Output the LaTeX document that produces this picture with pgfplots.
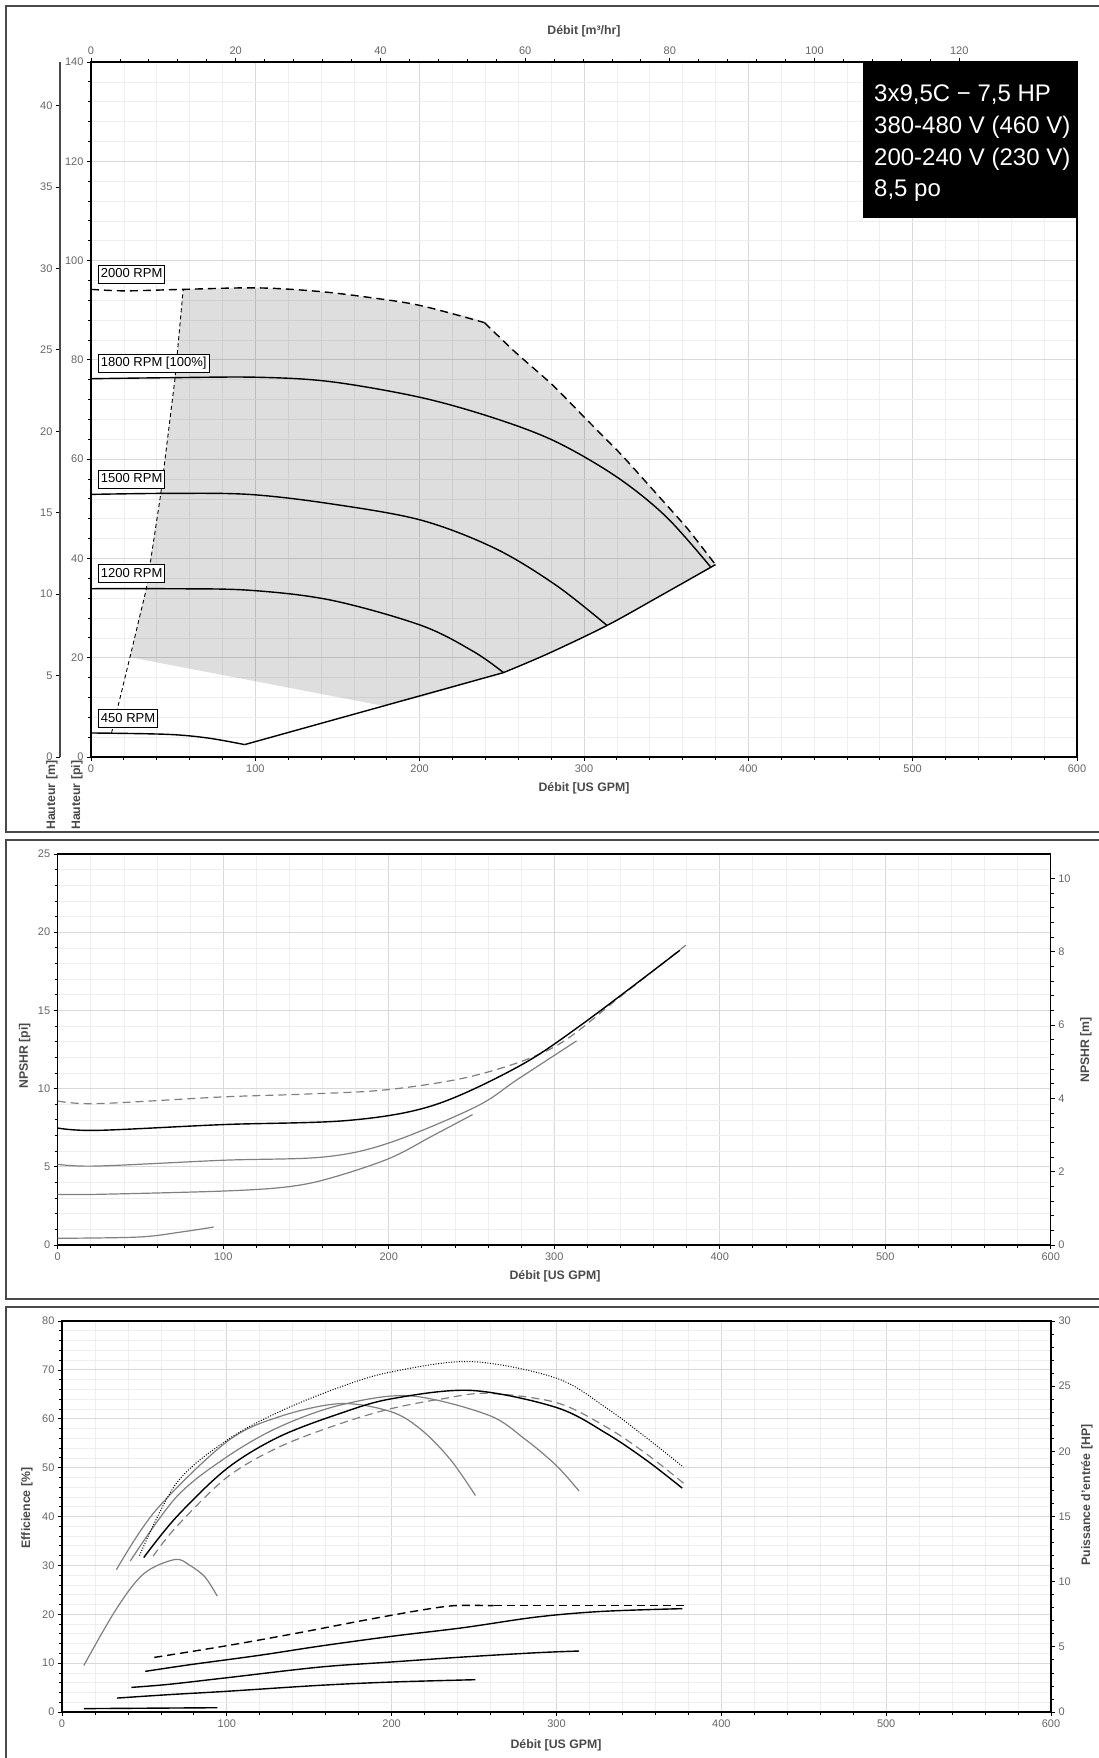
\documentclass[border=0pt]{standalone}
\usepackage{fontspec}
\setmainfont{Liberation Sans}
\usepackage{pgfplots}
\pgfplotsset{compat=1.18}
\definecolor{tickgray}{HTML}{666666}
\definecolor{labgray}{HTML}{4A4A4A}
\definecolor{curvegray}{HTML}{808080}
\definecolor{gmaj}{HTML}{D9D9D9}
\definecolor{gmin}{HTML}{EEEEEE}
\definecolor{framegray}{HTML}{4A4A4A}
\pgfplotsset{
  base/.style={
    scale only axis,
    axis line style={black, line width=1.2pt},
    tick style={black, line width=0.8pt},
    major tick length=4pt, minor tick length=3pt,
    tick align=outside,
    tick label style={font=\fontsize{11}{13}\selectfont, text=tickgray},
    /pgf/number format/assume math mode=true,
    /pgf/number format/1000 sep={},
  },
  gridded/.style={grid=both, major grid style={gmaj, line width=0.9pt}, minor grid style={gmin, line width=0.7pt}},
}
\tikzset{
  blk/.style={black, line width=1.4pt, smooth, tension=0.55},
  gry/.style={curvegray, line width=1.2pt, smooth, tension=0.55},
  rpm/.style={draw=black, fill=white, line width=0.8pt, font=\fontsize{13}{15}\selectfont, inner xsep=2.5pt, inner ysep=3.2pt, text height=9.5pt, text depth=2.5pt, anchor=south west},
  lab/.style={font=\bfseries\fontsize{12.3}{14}\selectfont, text=labgray, inner sep=0pt},
}
\begin{document}
\begin{tikzpicture}
\useasboundingbox (0pt,0pt) rectangle (1099pt,-1758pt);
\clip (0pt,0pt) rectangle (1099pt,-1758pt);
\fill[white] (0pt,0pt) rectangle (1099pt,-1758pt);
% frames
\draw[framegray, line width=1.5pt] (6pt,-6pt) rectangle (1120pt,-832pt);
\draw[framegray, line width=1.5pt] (6pt,-840pt) rectangle (1120pt,-1299pt);
\draw[framegray, line width=1.5pt] (6pt,-1307pt) rectangle (1120pt,-1790pt);

% ================= TOP PANEL =================
\begin{axis}[base, gridded, clip=false, at={(91pt,-757pt)}, anchor=south west, width=986pt, height=695pt,
  xmin=0, xmax=600, ymin=0, ymax=140, xtick={0,100,...,600}, ytick={0,20,...,140},
  minor x tick num=4, minor y tick num=4, tick pos=left]
\addplot[draw=none, fill=black, fill opacity=0.13] coordinates {
 (23.7,20.1) (33.7,33.9) (42.4,52.9) (51.1,76.2) (56.1,94.2)
 (80,94.4) (101,94.5) (120,94.3) (138,93.8) (171,92.5) (201,90.9) (231,88.6) (239.4,87.5)
 (258,81.6) (281,74.9) (303,67.5) (323,60.8) (345,52.7) (363,46.0) (380,38.75)
 (345,32.2) (314,26.5) (278,20.8) (251,17.0) (201,12.1) (178,10.3)} -- cycle;
\addplot[black, line width=0.9pt, dash pattern=on 4pt off 3pt] coordinates {
 (12.5,4.84) (23.7,20.1) (33.7,33.9) (42.4,52.9) (51.1,76.2) (56.1,94.2)};
\addplot[black, line width=1.4pt, dash pattern=on 8pt off 5pt, smooth, tension=0.55] coordinates {
 (0,94.2) (21,93.9) (56,94.2) (101,94.5) (138,93.8) (171,92.5) (201,90.9) (239.4,87.5)};
\addplot[black, line width=1.4pt, dash pattern=on 8pt off 5pt, smooth, tension=0.3] coordinates {
 (239.4,87.5) (258,81.6) (281,74.9) (303,67.5) (323,60.8) (345,52.7) (363,46.0) (380,38.75)};
\addplot[blk] coordinates {(0,76.2) (46,76.4) (101,76.5) (146,75.6) (201,72.4) (246,68.2) (283,63.5) (320,56.4) (350,48.4) (377,38.3)};
\addplot[blk] coordinates {(0,52.9) (46,53.1) (96,52.9) (146,51.0) (201,47.7) (246,42.0) (283,34.6) (314,26.5)};
\addplot[blk] coordinates {(0,33.9) (46,33.9) (96,33.6) (146,31.6) (201,26.5) (233,21.2) (251,17.0)};
\addplot[blk] coordinates {(0,4.84) (46,4.57) (71,3.83) (93.5,2.5)};
\addplot[black, line width=1.4pt] coordinates {(93.5,2.5) (251,17.0)};
\addplot[blk] coordinates {(251,17.0) (278,20.8) (314,26.5) (345,32.2) (380,38.75)};
\node[rpm] at (axis cs:4.3,95.3) {2000 RPM};
\node[rpm] at (axis cs:4.3,77.4) {1800 RPM [100\%]};
\node[rpm] at (axis cs:4.3,54.0) {1500 RPM};
\node[rpm] at (axis cs:4.3,35.0) {1200 RPM};
\node[rpm] at (axis cs:4.3,5.8) {450 RPM};
\end{axis}
\begin{axis}[base, at={(91pt,-757pt)}, anchor=south west, width=986pt, height=695pt,
  xmin=0, xmax=136.275, ymin=0, ymax=140, axis x line*=top, hide y axis,
  xtick={0,20,...,120}, minor x tick num=4]
\end{axis}
\begin{axis}[base, at={(60pt,-757pt)}, anchor=south west, width=1pt, height=695pt,
  xmin=0, xmax=1, ymin=0, ymax=42.672, axis y line*=left, hide x axis,
  axis line style={framegray, line width=1.6pt}, ytick={0,5,...,40}]
\end{axis}
\fill[black] (863pt,-62pt) rectangle (1077pt,-217.7pt);
\begin{scope}[every node/.style={font=\fontsize{24}{28}\selectfont, text=white, anchor=base west, inner sep=0pt}]
\node at (874pt,-101.7pt) {3x9,5C − 7,5 HP};
\node at (874pt,-133.5pt) {380-480 V (460 V)};
\node at (874pt,-165.2pt) {200-240 V (230 V)};
\node at (874pt,-196.9pt) {8,5 po};
\end{scope}
\node[lab] at (584pt,-31.5pt) {Débit [m³/hr]};
\node[lab] at (584pt,-788pt) {Débit [US GPM]};
\node[lab, rotate=90, anchor=west] at (52pt,-830pt) {Hauteur [m]};
\node[lab, rotate=90, anchor=west] at (77pt,-830pt) {Hauteur [pi]};

% ================= MIDDLE PANEL =================
\begin{axis}[base, gridded, at={(57.7pt,-1245pt)}, anchor=south west, width=993pt, height=391pt,
  xmin=0, xmax=600, ymin=0, ymax=25, xtick={0,100,...,600}, ytick={0,5,...,25},
  minor x tick num=4, minor y tick num=4, tick pos=left]
\addplot[gry, dash pattern=on 8pt off 5pt] coordinates {(0,9.21) (24,9.04) (100,9.47) (150,9.65) (200,9.94) (252.5,10.85) (300,12.66) (341,15.97) (379.5,19.17)};
\addplot[gry] coordinates {(0,3.24) (24,3.24) (100,3.45) (138,3.71) (163.5,4.24) (200,5.52) (227,7.01) (250.7,8.34)};
\addplot[gry] coordinates {(0,5.16) (24,5.05) (100,5.42) (161,5.63) (200,6.52) (252.5,8.83) (278,10.6) (313.5,13.05)};
\addplot[gry] coordinates {(0,0.43) (49,0.51) (74.6,0.83) (94.2,1.15)};
\addplot[blk] coordinates {(0,7.48) (24,7.33) (100,7.7) (176,7.97) (227,8.93) (278,11.39) (316,14.05) (376,18.85)};
\end{axis}
\begin{axis}[base, at={(57.7pt,-1245pt)}, anchor=south west, width=993pt, height=391pt,
  xmin=0, xmax=600, ymin=0, ymax=10.668, hide x axis, axis y line*=right,
  ytick={0,2,...,10}, minor y tick num=4]
\end{axis}
\node[lab, rotate=90] at (24.7pt,-1056pt) {NPSHR [pi]};
\node[lab, rotate=90] at (1086pt,-1050pt) {NPSHR [m]};
\node[lab] at (555pt,-1276pt) {Débit [US GPM]};

% ================= BOTTOM PANEL =================
\begin{axis}[base, gridded, at={(62pt,-1712pt)}, anchor=south west, width=989pt, height=391pt,
  xmin=0, xmax=600, ymin=0, ymax=80, xtick={0,100,...,600}, ytick={0,10,...,80},
  minor x tick num=4, minor y tick num=4, tick pos=left]
\addplot[gry] coordinates {(13.2,9.5) (33,21.1) (49.6,28.3) (68.4,31.2) (77.6,30.0) (86.8,27.6) (94.2,23.7)};
\addplot[gry] coordinates {(33,29.1) (57,41.3) (100,55.3) (131.6,60.4) (168.8,63.1) (200,61.4) (218.5,57.6) (236,51.5) (250.8,44.3)};
\addplot[gry] coordinates {(41.4,30.9) (69.4,44.0) (100,52.2) (131.6,58.3) (168.8,62.8) (211,64.7) (258.3,60.8) (280.6,55.9) (300,50.4) (313.7,45.2)};
\addplot[gry, dash pattern=on 8pt off 5pt] coordinates {(55.3,31.9) (69.4,37.9) (100,48.0) (131.6,54.2) (168.8,59.0) (200,62.1) (231,64.1) (258.3,65.2) (300,63.3) (330.3,58.3) (355,52.7) (377.5,46.7)};
\addplot[black, line width=1pt, dash pattern=on 1pt off 1.6pt, smooth, tension=0.55] coordinates {(47,32.0) (69.4,46.8) (100,55.6) (131.6,61.4) (168.8,66.5) (200,69.6) (248.3,71.7) (300,68.3) (330.3,62.2) (355,56.0) (377,50.1)};
\addplot[blk] coordinates {(49.6,31.6) (69.4,39.9) (100,49.8) (131.6,56.3) (168.8,61.1) (200,64.1) (248.3,65.8) (300,62.3) (330.3,57.0) (355,51.4) (376.3,45.8)};
\end{axis}
\begin{axis}[base, at={(62pt,-1712pt)}, anchor=south west, width=989pt, height=391pt,
  xmin=0, xmax=600, ymin=0, ymax=30, hide x axis, axis y line*=right,
  ytick={0,5,...,30}, minor y tick num=4]
\addplot[black, line width=1.4pt, dash pattern=on 8pt off 5pt, smooth, tension=0.5] coordinates {(56,4.19) (98.7,5.06) (140.8,6.01) (182.9,7.03) (217,7.8) (238,8.16) (261.8,8.16)};
\addplot[black, line width=1.4pt, dash pattern=on 8pt off 5pt] coordinates {(261.8,8.16) (379,8.16)};
\addplot[blk] coordinates {(50.5,3.12) (77.6,3.63) (119.7,4.35) (156.6,5.06) (200,5.81) (243.4,6.47) (288,7.29) (327.6,7.72) (376.3,7.93)};
\addplot[blk] coordinates {(42.1,1.89) (64.5,2.12) (100,2.63) (156.6,3.45) (200,3.84) (243.4,4.22) (288,4.55) (313.7,4.68)};
\addplot[blk] coordinates {(33.4,1.07) (64.5,1.33) (100,1.59) (156.6,2.05) (200,2.30) (250.8,2.48)};
\addplot[blk] coordinates {(13.2,0.26) (94.2,0.33)};
\end{axis}
\node[lab, rotate=90] at (27pt,-1508pt) {Efficience [\%]};
\node[lab, rotate=90] at (1087pt,-1495pt) {Puissance d'entrée [HP]};
\node[lab] at (556pt,-1745pt) {Débit [US GPM]};
\end{tikzpicture}
\end{document}
